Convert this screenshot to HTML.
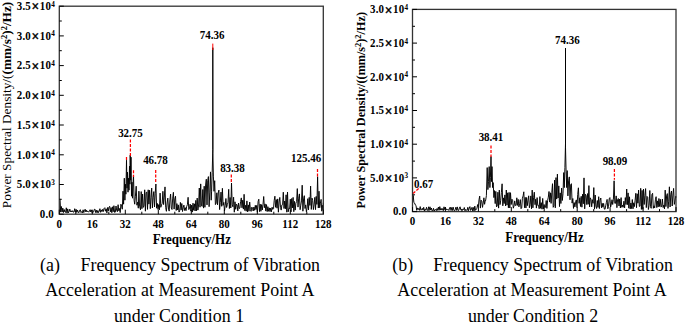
<!DOCTYPE html>
<html><head><meta charset="utf-8"><title>Frequency Spectrum</title>
<style>html,body{margin:0;padding:0;background:#fff}body{width:685px;height:322px;position:relative;overflow:hidden;font-family:"Liberation Serif",serif}</style></head>
<body>
<svg width="685" height="322" viewBox="0 0 685 322" style="position:absolute;left:0;top:0">
<style>text{font-family:"Liberation Serif",serif;fill:#000} .tk{font-size:10.9px;font-weight:bold;letter-spacing:0.12px} .xl{font-size:11px;font-weight:bold} .pk{font-size:11px;font-weight:bold} .ax{font-size:13px;font-weight:bold} .cap{font-size:17.9px}</style>
<polyline points="59.3,199.2 60.0,198.8 60.7,212.1 61.4,206.5 62.1,212.1 62.8,208.1 63.5,212.5 64.2,209.5 64.9,212.0 65.6,212.4 66.3,207.8 67.0,213.2 67.7,208.9 68.4,212.8 69.1,211.6 69.8,209.1 70.5,211.8 71.2,210.8 71.9,212.0 72.6,210.7 73.3,212.2 74.0,212.0 74.7,208.7 75.4,212.2 76.1,209.3 76.8,212.4 77.5,210.0 78.2,212.3 78.9,212.7 79.6,210.3 80.3,209.7 81.0,212.5 81.7,211.6 82.4,212.9 83.1,209.8 83.8,212.6 84.5,210.1 85.2,209.2 85.9,212.0 86.6,210.2 87.3,212.0 88.0,211.3 88.7,212.2 89.4,211.2 90.1,209.7 90.8,212.0 91.5,209.9 92.2,213.1 92.9,212.3 93.6,211.9 94.3,209.4 95.0,209.2 95.7,212.6 96.4,210.2 97.1,212.8 97.8,210.5 98.5,212.6 99.2,211.1 99.9,208.7 100.6,212.3 101.3,209.9 102.0,211.6 102.7,209.3 103.4,211.5 104.1,208.4 104.8,207.7 105.5,211.2 106.2,208.8 106.9,212.9 107.6,207.5 108.3,211.0 109.0,207.0 109.7,206.3 110.4,211.8 111.1,207.6 111.8,212.7 112.5,206.8 113.2,211.7 113.9,205.7 114.6,212.4 115.3,212.1 116.0,206.0 116.7,210.4 117.4,211.7 118.1,204.7 118.8,210.8 119.5,208.5 120.2,212.6 120.9,204.2 121.6,206.2 122.3,209.2 123.0,191.2 123.6,204.2 124.3,178.2 124.9,200.2 125.4,184.2 125.9,194.2 126.5,160.2 127.0,188.2 127.5,172.2 128.0,192.2 128.5,178.2 129.0,190.2 129.5,166.2 129.9,184.2 130.2,155.2 130.7,180.2 131.0,157.2 131.5,196.2 132.0,182.2 132.5,198.2 133.0,184.2 133.5,175.2 134.1,200.2 134.7,204.2 135.4,196.2 136.2,186.2 136.9,205.2 137.6,202.2 138.3,208.2 138.9,191.2 139.6,206.2 140.5,209.8 141.2,191.6 141.9,208.7 142.6,194.0 143.3,207.4 144.0,205.9 144.7,189.8 145.4,211.2 146.1,192.8 146.8,191.9 147.5,209.4 148.2,189.8 148.9,204.1 149.6,190.2 150.3,208.7 151.0,197.7 151.7,188.1 152.4,207.9 153.1,197.3 153.8,191.6 154.5,207.0 155.2,193.3 155.9,184.0 156.6,208.2 157.3,203.4 158.0,209.4 158.7,204.6 159.4,209.8 160.1,193.1 160.8,207.3 161.5,204.9 162.2,203.4 162.9,191.3 163.6,204.6 164.3,197.1 165.0,186.9 165.7,207.6 166.4,211.3 167.1,203.0 167.8,198.1 168.5,209.1 169.2,211.1 169.9,199.9 170.6,194.1 171.3,208.1 172.0,209.5 172.7,198.1 173.4,192.3 174.1,209.1 174.8,198.9 175.5,196.2 176.2,210.5 176.9,203.6 177.6,210.0 178.3,204.9 179.0,212.1 179.7,210.9 180.4,202.4 181.1,209.9 181.8,203.5 182.5,211.5 183.2,207.8 183.9,205.1 184.6,210.5 185.3,207.7 186.0,210.7 186.7,206.3 187.4,204.7 188.1,197.3 188.8,209.6 189.5,208.0 190.2,204.1 190.9,211.1 191.6,205.1 192.3,212.1 193.0,203.2 193.7,210.3 194.4,203.8 195.1,211.0 195.8,200.4 196.5,210.8 197.2,198.1 197.9,210.1 198.6,205.0 199.3,188.0 200.0,207.2 200.7,183.9 201.4,205.0 202.1,206.4 202.8,189.5 203.5,208.1 204.2,186.2 204.9,207.3 205.6,185.0 206.3,179.2 207.0,204.9 207.7,180.8 208.4,176.6 209.1,206.7 209.8,192.1 210.5,171.9 211.2,200.2 211.6,191.3 212.2,172.3 212.8,149.4 212.8,47.7 212.9,153.2 213.4,176.1 214.0,191.3 214.7,180.7 215.4,204.6 216.1,203.3 216.8,192.8 217.5,204.8 218.2,193.0 218.9,190.1 219.6,209.6 220.3,202.3 221.0,192.1 221.7,206.3 222.4,188.3 223.1,205.3 223.8,202.4 224.5,210.9 225.2,205.7 225.9,198.5 226.6,207.5 227.3,204.7 228.0,202.3 228.7,189.3 229.4,208.5 230.1,197.5 230.8,208.0 231.5,183.0 232.2,204.3 232.9,206.8 233.6,197.2 234.3,212.2 235.0,201.8 235.7,209.3 236.4,204.1 237.1,205.0 237.8,210.9 238.5,203.0 239.2,208.7 239.9,208.0 240.6,201.5 241.3,197.9 242.0,207.8 242.7,200.2 243.4,209.1 244.1,194.3 244.8,210.5 245.5,205.3 246.2,211.2 246.9,200.9 247.6,211.9 248.3,204.9 249.0,211.2 249.7,202.1 250.4,209.6 251.1,211.4 251.8,207.1 252.5,208.1 253.2,211.0 253.9,207.0 254.6,210.3 255.3,205.3 256.0,209.6 256.7,205.4 257.4,212.1 258.1,201.5 258.8,199.2 259.5,211.6 260.2,204.1 260.9,211.3 261.6,204.6 262.3,210.0 263.0,204.5 263.7,196.5 264.4,207.7 265.1,203.9 265.8,211.1 266.5,204.6 267.2,211.6 267.9,206.7 268.6,211.3 269.3,207.9 270.0,211.6 270.7,208.1 271.4,211.8 272.1,207.2 272.8,209.4 273.5,208.7 274.2,200.4 274.9,196.2 275.6,207.3 276.3,199.6 277.0,208.2 277.7,198.9 278.4,212.2 279.1,202.0 279.8,197.4 280.5,207.4 281.2,210.1 281.9,204.9 282.6,204.6 283.3,192.2 284.0,208.5 284.7,201.0 285.4,208.8 286.1,194.8 286.8,212.2 287.5,192.0 288.2,211.8 288.9,208.3 289.6,208.8 290.3,199.2 291.0,211.9 291.7,198.5 292.4,207.9 293.1,197.4 293.8,211.7 294.5,201.4 295.2,210.1 295.9,203.1 296.6,201.6 297.3,188.6 298.0,207.1 298.7,198.2 299.4,193.9 300.1,209.7 300.8,205.2 301.5,200.9 302.2,185.2 302.9,211.2 303.6,198.9 304.3,195.7 305.0,208.5 305.7,204.9 306.4,211.8 307.1,208.2 307.8,198.7 308.5,209.9 309.2,197.4 309.9,205.4 310.6,186.1 311.3,209.4 312.0,198.1 312.7,200.5 313.4,209.6 314.1,204.7 314.8,197.4 315.5,209.6 316.2,196.4 316.9,204.4 317.6,176.7 318.3,208.0 319.0,191.2 319.7,207.8 320.4,203.2 321.1,199.4 321.8,211.2 322.5,205.3 323.2,209.9 323.3,202.7" fill="none" stroke="#000" stroke-width="0.95" stroke-linejoin="miter" stroke-miterlimit="3"/>
<rect x="59.3" y="6.2" width="264.0" height="208.0" fill="none" stroke="#333" stroke-width="1.3"/>
<line x1="59.3" y1="214.2" x2="63.8" y2="214.2" stroke="#000" stroke-width="1"/>
<line x1="59.3" y1="199.3" x2="61.8" y2="199.3" stroke="#000" stroke-width="1"/>
<text transform="translate(53.8,218.0) scale(1,1.06)" text-anchor="end" class="tk">0.0</text>
<line x1="59.3" y1="184.5" x2="63.8" y2="184.5" stroke="#000" stroke-width="1"/>
<line x1="59.3" y1="169.6" x2="61.8" y2="169.6" stroke="#000" stroke-width="1"/>
<text transform="translate(55.0,188.3) scale(1,1.06)" text-anchor="end" class="tk">5.0<tspan dx="0.6" dy="1.4" font-size="13.5" stroke="#000" stroke-width="0.35">×</tspan><tspan dx="0.6" dy="-1.4">10</tspan><tspan dy="-3.1" dx="0.3" font-size="7.2">3</tspan></text>
<line x1="59.3" y1="154.8" x2="63.8" y2="154.8" stroke="#000" stroke-width="1"/>
<line x1="59.3" y1="139.9" x2="61.8" y2="139.9" stroke="#000" stroke-width="1"/>
<text transform="translate(55.0,158.6) scale(1,1.06)" text-anchor="end" class="tk">1.0<tspan dx="0.6" dy="1.4" font-size="13.5" stroke="#000" stroke-width="0.35">×</tspan><tspan dx="0.6" dy="-1.4">10</tspan><tspan dy="-3.1" dx="0.3" font-size="7.2">4</tspan></text>
<line x1="59.3" y1="125.0" x2="63.8" y2="125.0" stroke="#000" stroke-width="1"/>
<line x1="59.3" y1="110.2" x2="61.8" y2="110.2" stroke="#000" stroke-width="1"/>
<text transform="translate(55.0,128.8) scale(1,1.06)" text-anchor="end" class="tk">1.5<tspan dx="0.6" dy="1.4" font-size="13.5" stroke="#000" stroke-width="0.35">×</tspan><tspan dx="0.6" dy="-1.4">10</tspan><tspan dy="-3.1" dx="0.3" font-size="7.2">4</tspan></text>
<line x1="59.3" y1="95.3" x2="63.8" y2="95.3" stroke="#000" stroke-width="1"/>
<line x1="59.3" y1="80.5" x2="61.8" y2="80.5" stroke="#000" stroke-width="1"/>
<text transform="translate(55.0,99.1) scale(1,1.06)" text-anchor="end" class="tk">2.0<tspan dx="0.6" dy="1.4" font-size="13.5" stroke="#000" stroke-width="0.35">×</tspan><tspan dx="0.6" dy="-1.4">10</tspan><tspan dy="-3.1" dx="0.3" font-size="7.2">4</tspan></text>
<line x1="59.3" y1="65.6" x2="63.8" y2="65.6" stroke="#000" stroke-width="1"/>
<line x1="59.3" y1="50.7" x2="61.8" y2="50.7" stroke="#000" stroke-width="1"/>
<text transform="translate(55.0,69.4) scale(1,1.06)" text-anchor="end" class="tk">2.5<tspan dx="0.6" dy="1.4" font-size="13.5" stroke="#000" stroke-width="0.35">×</tspan><tspan dx="0.6" dy="-1.4">10</tspan><tspan dy="-3.1" dx="0.3" font-size="7.2">4</tspan></text>
<line x1="59.3" y1="35.9" x2="63.8" y2="35.9" stroke="#000" stroke-width="1"/>
<line x1="59.3" y1="21.0" x2="61.8" y2="21.0" stroke="#000" stroke-width="1"/>
<text transform="translate(55.0,39.7) scale(1,1.06)" text-anchor="end" class="tk">3.0<tspan dx="0.6" dy="1.4" font-size="13.5" stroke="#000" stroke-width="0.35">×</tspan><tspan dx="0.6" dy="-1.4">10</tspan><tspan dy="-3.1" dx="0.3" font-size="7.2">4</tspan></text>
<line x1="59.3" y1="6.2" x2="63.8" y2="6.2" stroke="#000" stroke-width="1"/>
<text transform="translate(55.0,10.0) scale(1,1.06)" text-anchor="end" class="tk">3.5<tspan dx="0.6" dy="1.4" font-size="13.5" stroke="#000" stroke-width="0.35">×</tspan><tspan dx="0.6" dy="-1.4">10</tspan><tspan dy="-3.1" dx="0.3" font-size="7.2">4</tspan></text>
<line x1="59.3" y1="214.2" x2="59.3" y2="209.7" stroke="#000" stroke-width="1"/>
<line x1="75.8" y1="214.2" x2="75.8" y2="211.7" stroke="#000" stroke-width="1"/>
<text transform="translate(59.3,228.0) scale(1,1.06)" text-anchor="middle" class="xl">0</text>
<line x1="92.3" y1="214.2" x2="92.3" y2="209.7" stroke="#000" stroke-width="1"/>
<line x1="108.8" y1="214.2" x2="108.8" y2="211.7" stroke="#000" stroke-width="1"/>
<text transform="translate(92.3,228.0) scale(1,1.06)" text-anchor="middle" class="xl">16</text>
<line x1="125.3" y1="214.2" x2="125.3" y2="209.7" stroke="#000" stroke-width="1"/>
<line x1="141.8" y1="214.2" x2="141.8" y2="211.7" stroke="#000" stroke-width="1"/>
<text transform="translate(125.3,228.0) scale(1,1.06)" text-anchor="middle" class="xl">32</text>
<line x1="158.3" y1="214.2" x2="158.3" y2="209.7" stroke="#000" stroke-width="1"/>
<line x1="174.8" y1="214.2" x2="174.8" y2="211.7" stroke="#000" stroke-width="1"/>
<text transform="translate(158.3,228.0) scale(1,1.06)" text-anchor="middle" class="xl">48</text>
<line x1="191.3" y1="214.2" x2="191.3" y2="209.7" stroke="#000" stroke-width="1"/>
<line x1="207.8" y1="214.2" x2="207.8" y2="211.7" stroke="#000" stroke-width="1"/>
<text transform="translate(191.3,228.0) scale(1,1.06)" text-anchor="middle" class="xl">64</text>
<line x1="224.3" y1="214.2" x2="224.3" y2="209.7" stroke="#000" stroke-width="1"/>
<line x1="240.8" y1="214.2" x2="240.8" y2="211.7" stroke="#000" stroke-width="1"/>
<text transform="translate(224.3,228.0) scale(1,1.06)" text-anchor="middle" class="xl">80</text>
<line x1="257.3" y1="214.2" x2="257.3" y2="209.7" stroke="#000" stroke-width="1"/>
<line x1="273.8" y1="214.2" x2="273.8" y2="211.7" stroke="#000" stroke-width="1"/>
<text transform="translate(257.3,228.0) scale(1,1.06)" text-anchor="middle" class="xl">96</text>
<line x1="290.3" y1="214.2" x2="290.3" y2="209.7" stroke="#000" stroke-width="1"/>
<line x1="306.8" y1="214.2" x2="306.8" y2="211.7" stroke="#000" stroke-width="1"/>
<text transform="translate(290.3,228.0) scale(1,1.06)" text-anchor="middle" class="xl">112</text>
<line x1="323.3" y1="214.2" x2="323.3" y2="209.7" stroke="#000" stroke-width="1"/>
<text transform="translate(323.3,228.0) scale(1,1.06)" text-anchor="middle" class="xl">128</text>
<text transform="translate(191.8,244.2) scale(1,1.06)" text-anchor="middle" class="ax">Frequency/Hz</text>
<polyline points="412.5,201.6 413.2,195.4 413.9,202.6 414.6,203.1 415.3,204.9 416.0,205.4 416.7,210.3 417.4,207.9 418.1,209.6 418.8,208.4 419.5,210.3 420.2,206.6 420.9,210.2 421.6,209.7 422.3,208.3 423.0,210.1 423.7,207.3 424.4,211.0 425.1,209.2 425.8,210.3 426.5,207.3 427.2,210.0 427.9,210.6 428.6,206.8 429.3,209.6 430.0,206.8 430.7,210.1 431.4,208.0 432.1,210.9 432.8,210.9 433.5,208.3 434.2,211.0 434.9,209.7 435.6,209.5 436.3,210.7 437.0,208.5 437.7,210.4 438.4,207.1 439.1,210.3 439.8,206.6 440.5,210.1 441.2,208.4 441.9,210.1 442.6,208.6 443.3,210.7 444.0,206.8 444.7,209.6 445.4,207.4 446.1,210.1 446.8,209.2 447.5,209.6 448.2,209.4 448.9,210.5 449.6,207.8 450.3,207.1 451.0,210.5 451.7,207.5 452.4,210.5 453.1,207.1 453.8,209.9 454.5,211.1 455.2,209.7 455.9,207.2 456.6,210.4 457.3,206.9 458.0,210.5 458.7,210.4 459.4,208.0 460.1,206.8 460.8,209.9 461.5,209.4 462.2,210.3 462.9,209.1 463.6,209.6 464.3,207.5 465.0,210.9 465.7,209.4 466.4,210.2 467.1,210.5 467.8,207.3 468.5,210.8 469.2,208.1 469.9,206.6 470.6,210.4 471.3,209.6 472.0,207.3 472.7,210.9 473.4,207.5 474.1,210.9 474.8,206.1 475.5,210.3 476.2,209.2 476.9,208.6 477.6,204.6 478.3,207.2 479.0,199.7 479.7,196.1 480.4,208.1 481.1,200.2 481.8,201.1 482.5,207.4 483.2,203.0 483.9,197.8 484.6,204.3 485.3,200.1 485.6,200.6 486.4,195.6 487.2,167.6 487.9,189.6 488.5,181.6 489.2,166.6 489.9,187.6 490.4,177.6 491.0,156.6 491.5,181.6 492.0,166.6 492.6,187.6 493.2,182.6 493.9,197.6 494.5,190.6 495.2,203.6 495.8,191.4 496.5,206.9 497.2,206.0 497.9,192.2 498.6,208.1 499.3,190.1 500.0,204.6 500.7,200.7 501.4,192.4 502.1,183.8 502.8,205.8 503.5,197.9 504.2,203.5 504.9,194.9 505.6,206.0 506.3,190.0 507.0,205.1 507.7,192.8 508.4,207.8 509.1,192.4 509.8,208.0 510.5,192.7 511.2,204.5 511.9,199.2 512.6,200.2 513.3,208.2 514.0,206.0 514.7,200.9 515.4,205.5 516.1,205.4 516.8,197.8 517.5,205.4 518.2,199.4 518.9,206.9 519.6,203.7 520.3,199.6 521.0,208.7 521.7,208.0 522.4,198.2 523.1,195.9 523.8,191.8 524.5,207.7 525.2,197.3 525.9,208.0 526.6,197.5 527.3,205.7 528.0,200.3 528.7,195.8 529.4,207.8 530.1,204.7 530.8,195.9 531.5,208.8 532.2,190.1 532.9,207.8 533.6,197.3 534.3,192.2 535.0,204.7 535.7,199.2 536.4,208.1 537.1,197.6 537.8,205.5 538.5,205.4 539.2,208.7 539.9,196.6 540.6,208.3 541.3,202.7 542.0,209.2 542.7,198.4 543.4,208.9 544.1,204.5 544.8,207.6 545.5,207.3 546.2,200.5 546.9,208.4 547.6,200.6 548.3,197.2 549.0,191.5 549.7,202.1 550.4,192.8 551.1,203.4 551.8,192.4 552.5,183.7 553.2,207.3 553.9,205.8 554.6,180.1 555.3,207.8 556.0,177.6 556.7,199.1 557.4,174.1 558.1,198.0 558.8,185.9 559.5,206.6 560.2,192.9 560.9,203.5 561.6,188.1 562.3,200.5 563.0,193.6 563.7,172.6 564.3,187.6 564.9,167.6 565.5,143.6 565.5,48.1 565.5,147.6 566.1,171.6 566.7,187.6 567.2,170.6 567.9,195.9 568.6,180.9 569.3,176.9 570.0,199.8 570.7,184.8 571.4,183.7 572.1,203.1 572.8,198.5 573.5,208.4 574.2,202.6 574.9,206.9 575.6,202.1 576.3,199.9 577.0,207.6 577.7,194.5 578.4,187.8 579.1,203.3 579.8,197.8 580.5,206.5 581.2,196.3 581.9,207.2 582.6,194.2 583.3,203.8 584.0,177.9 584.7,208.8 585.4,194.2 586.1,195.6 586.8,204.6 587.5,193.6 588.2,204.3 588.9,185.6 589.6,207.0 590.3,197.8 591.0,199.6 591.7,206.8 592.4,199.7 593.1,203.3 593.8,187.6 594.5,209.1 595.2,195.0 595.9,206.2 596.6,208.5 597.3,200.5 598.0,207.4 598.7,196.7 599.4,208.6 600.1,200.1 600.8,198.0 601.5,207.8 602.2,203.3 602.9,207.2 603.6,203.4 604.3,209.0 605.0,209.3 605.7,205.9 606.4,202.4 607.1,199.4 607.8,208.8 608.5,206.4 609.2,198.8 609.9,197.6 610.6,207.1 611.3,204.0 612.0,199.7 612.7,204.5 613.4,199.3 614.1,180.8 614.8,203.3 615.5,203.3 616.2,195.9 616.9,207.7 617.6,199.6 618.3,198.5 619.0,206.0 619.7,199.0 620.4,208.0 621.1,197.6 621.8,207.3 622.5,205.0 623.2,207.3 623.9,201.2 624.6,207.9 625.3,197.6 626.0,204.5 626.7,189.0 627.4,204.7 628.1,192.9 628.8,208.2 629.5,196.8 630.2,208.9 630.9,203.0 631.6,208.6 632.3,199.5 633.0,208.8 633.7,202.8 634.4,206.6 635.1,200.3 635.8,193.3 636.5,207.7 637.2,193.8 637.9,203.2 638.6,190.1 639.3,206.4 640.0,206.2 640.7,188.3 641.4,209.4 642.1,190.4 642.8,209.3 643.5,189.0 644.2,204.5 644.9,195.6 645.6,188.6 646.3,207.6 647.0,196.4 647.7,197.2 648.4,209.5 649.1,205.5 649.8,190.5 650.5,206.6 651.2,208.3 651.9,194.5 652.6,193.3 653.3,208.3 654.0,205.8 654.7,207.9 655.4,199.8 656.1,196.7 656.8,207.6 657.5,200.9 658.2,206.9 658.9,198.5 659.6,206.5 660.3,199.3 661.0,207.1 661.7,206.3 662.4,199.0 663.1,207.5 663.8,205.1 664.5,208.9 665.2,190.1 665.9,206.6 666.6,196.0 667.3,193.6 668.0,208.4 668.7,201.2 669.4,186.8 670.1,207.0 670.8,194.2 671.5,191.0 672.2,206.0 672.9,195.1 673.6,188.4 674.3,204.4 675.0,201.0 675.7,196.2 676.0,197.6" fill="none" stroke="#000" stroke-width="0.95" stroke-linejoin="miter" stroke-miterlimit="3"/>
<rect x="412.5" y="9.4" width="263.5" height="202.2" fill="none" stroke="#333" stroke-width="1.3"/>
<line x1="412.5" y1="211.6" x2="417.0" y2="211.6" stroke="#000" stroke-width="1"/>
<line x1="412.5" y1="194.8" x2="415.0" y2="194.8" stroke="#000" stroke-width="1"/>
<text transform="translate(407.0,215.4) scale(1,1.06)" text-anchor="end" class="tk">0.0</text>
<line x1="412.5" y1="177.9" x2="417.0" y2="177.9" stroke="#000" stroke-width="1"/>
<line x1="412.5" y1="161.1" x2="415.0" y2="161.1" stroke="#000" stroke-width="1"/>
<text transform="translate(408.2,181.7) scale(1,1.06)" text-anchor="end" class="tk">5.0<tspan dx="0.6" dy="1.4" font-size="13.5" stroke="#000" stroke-width="0.35">×</tspan><tspan dx="0.6" dy="-1.4">10</tspan><tspan dy="-3.1" dx="0.3" font-size="7.2">3</tspan></text>
<line x1="412.5" y1="144.2" x2="417.0" y2="144.2" stroke="#000" stroke-width="1"/>
<line x1="412.5" y1="127.3" x2="415.0" y2="127.3" stroke="#000" stroke-width="1"/>
<text transform="translate(408.2,148.0) scale(1,1.06)" text-anchor="end" class="tk">1.0<tspan dx="0.6" dy="1.4" font-size="13.5" stroke="#000" stroke-width="0.35">×</tspan><tspan dx="0.6" dy="-1.4">10</tspan><tspan dy="-3.1" dx="0.3" font-size="7.2">4</tspan></text>
<line x1="412.5" y1="110.5" x2="417.0" y2="110.5" stroke="#000" stroke-width="1"/>
<line x1="412.5" y1="93.7" x2="415.0" y2="93.7" stroke="#000" stroke-width="1"/>
<text transform="translate(408.2,114.3) scale(1,1.06)" text-anchor="end" class="tk">1.5<tspan dx="0.6" dy="1.4" font-size="13.5" stroke="#000" stroke-width="0.35">×</tspan><tspan dx="0.6" dy="-1.4">10</tspan><tspan dy="-3.1" dx="0.3" font-size="7.2">4</tspan></text>
<line x1="412.5" y1="76.8" x2="417.0" y2="76.8" stroke="#000" stroke-width="1"/>
<line x1="412.5" y1="60.0" x2="415.0" y2="60.0" stroke="#000" stroke-width="1"/>
<text transform="translate(408.2,80.6) scale(1,1.06)" text-anchor="end" class="tk">2.0<tspan dx="0.6" dy="1.4" font-size="13.5" stroke="#000" stroke-width="0.35">×</tspan><tspan dx="0.6" dy="-1.4">10</tspan><tspan dy="-3.1" dx="0.3" font-size="7.2">4</tspan></text>
<line x1="412.5" y1="43.1" x2="417.0" y2="43.1" stroke="#000" stroke-width="1"/>
<line x1="412.5" y1="26.3" x2="415.0" y2="26.3" stroke="#000" stroke-width="1"/>
<text transform="translate(408.2,46.9) scale(1,1.06)" text-anchor="end" class="tk">2.5<tspan dx="0.6" dy="1.4" font-size="13.5" stroke="#000" stroke-width="0.35">×</tspan><tspan dx="0.6" dy="-1.4">10</tspan><tspan dy="-3.1" dx="0.3" font-size="7.2">4</tspan></text>
<line x1="412.5" y1="9.4" x2="417.0" y2="9.4" stroke="#000" stroke-width="1"/>
<text transform="translate(408.2,13.2) scale(1,1.06)" text-anchor="end" class="tk">3.0<tspan dx="0.6" dy="1.4" font-size="13.5" stroke="#000" stroke-width="0.35">×</tspan><tspan dx="0.6" dy="-1.4">10</tspan><tspan dy="-3.1" dx="0.3" font-size="7.2">4</tspan></text>
<line x1="412.5" y1="211.6" x2="412.5" y2="207.1" stroke="#000" stroke-width="1"/>
<line x1="429.0" y1="211.6" x2="429.0" y2="209.1" stroke="#000" stroke-width="1"/>
<text transform="translate(412.5,225.4) scale(1,1.06)" text-anchor="middle" class="xl">0</text>
<line x1="445.4" y1="211.6" x2="445.4" y2="207.1" stroke="#000" stroke-width="1"/>
<line x1="461.9" y1="211.6" x2="461.9" y2="209.1" stroke="#000" stroke-width="1"/>
<text transform="translate(445.4,225.4) scale(1,1.06)" text-anchor="middle" class="xl">16</text>
<line x1="478.4" y1="211.6" x2="478.4" y2="207.1" stroke="#000" stroke-width="1"/>
<line x1="494.8" y1="211.6" x2="494.8" y2="209.1" stroke="#000" stroke-width="1"/>
<text transform="translate(478.4,225.4) scale(1,1.06)" text-anchor="middle" class="xl">32</text>
<line x1="511.3" y1="211.6" x2="511.3" y2="207.1" stroke="#000" stroke-width="1"/>
<line x1="527.8" y1="211.6" x2="527.8" y2="209.1" stroke="#000" stroke-width="1"/>
<text transform="translate(511.3,225.4) scale(1,1.06)" text-anchor="middle" class="xl">48</text>
<line x1="544.2" y1="211.6" x2="544.2" y2="207.1" stroke="#000" stroke-width="1"/>
<line x1="560.7" y1="211.6" x2="560.7" y2="209.1" stroke="#000" stroke-width="1"/>
<text transform="translate(544.2,225.4) scale(1,1.06)" text-anchor="middle" class="xl">64</text>
<line x1="577.2" y1="211.6" x2="577.2" y2="207.1" stroke="#000" stroke-width="1"/>
<line x1="593.7" y1="211.6" x2="593.7" y2="209.1" stroke="#000" stroke-width="1"/>
<text transform="translate(577.2,225.4) scale(1,1.06)" text-anchor="middle" class="xl">80</text>
<line x1="610.1" y1="211.6" x2="610.1" y2="207.1" stroke="#000" stroke-width="1"/>
<line x1="626.6" y1="211.6" x2="626.6" y2="209.1" stroke="#000" stroke-width="1"/>
<text transform="translate(610.1,225.4) scale(1,1.06)" text-anchor="middle" class="xl">96</text>
<line x1="643.1" y1="211.6" x2="643.1" y2="207.1" stroke="#000" stroke-width="1"/>
<line x1="659.5" y1="211.6" x2="659.5" y2="209.1" stroke="#000" stroke-width="1"/>
<text transform="translate(643.1,225.4) scale(1,1.06)" text-anchor="middle" class="xl">112</text>
<line x1="676.0" y1="211.6" x2="676.0" y2="207.1" stroke="#000" stroke-width="1"/>
<text transform="translate(676.0,225.4) scale(1,1.06)" text-anchor="middle" class="xl">128</text>
<text transform="translate(544.5,241.6) scale(1,1.06)" text-anchor="middle" class="ax">Frequency/Hz</text>
<text transform="translate(11.3,208.2) rotate(-90)" style="font-size:13.3px"><tspan>Power Spectral Density/(</tspan><tspan font-weight="bold">(mm/s<tspan dy="-4.5" font-size="8.5">2</tspan><tspan dy="4.5">)</tspan><tspan dy="-4.5" font-size="8.5">2</tspan><tspan dy="4.5">/Hz)</tspan></tspan></text>
<text transform="translate(365.2,208.5) rotate(-90)" style="font-size:12.2px;font-weight:bold">Power Spectral Density/((mm/s<tspan dy="-4.5" font-size="8.5">2</tspan><tspan dy="4.5">)</tspan><tspan dy="-4.5" font-size="8.5">2</tspan><tspan dy="4.5">/Hz)</tspan></text>
<text transform="translate(212.2,39.4) scale(1,1.06)" text-anchor="middle" class="pk">74.36</text>
<text transform="translate(130.5,136.5) scale(1,1.06)" text-anchor="middle" class="pk">32.75</text>
<text transform="translate(155.5,164.0) scale(1,1.06)" text-anchor="middle" class="pk">46.78</text>
<text transform="translate(232.5,172.0) scale(1,1.06)" text-anchor="middle" class="pk">83.38</text>
<text transform="translate(321.3,161.9) scale(1,1.06)" text-anchor="end" class="pk">125.46</text>
<line x1="130.4" y1="139.5" x2="130.4" y2="156.0" stroke="#f00" stroke-width="1.25" stroke-dasharray="3,1.5"/>
<line x1="212.8" y1="43.6" x2="212.8" y2="50" stroke="#f00" stroke-width="1"/>
<line x1="155.7" y1="170.0" x2="155.7" y2="182.0" stroke="#f00" stroke-width="1.25" stroke-dasharray="3,1.5"/>
<line x1="231.3" y1="174.6" x2="231.3" y2="183.0" stroke="#f00" stroke-width="1.25" stroke-dasharray="3,1.5"/>
<line x1="317.5" y1="169.0" x2="317.5" y2="177.0" stroke="#f00" stroke-width="1.25" stroke-dasharray="3,1.5"/>
<line x1="126.5" y1="157.0" x2="126.5" y2="161.5" stroke="#f00" stroke-width="1.25" stroke-dasharray="3,1.5"/>
<line x1="133.5" y1="170.2" x2="133.5" y2="177.0" stroke="#f00" stroke-width="1.25" stroke-dasharray="3,1.5"/>
<text transform="translate(567.3,44.0) scale(1,1.06)" text-anchor="middle" class="pk">74.36</text>
<text transform="translate(491.0,141.0) scale(1,1.06)" text-anchor="middle" class="pk">38.41</text>
<text transform="translate(615.0,164.5) scale(1,1.06)" text-anchor="middle" class="pk">98.09</text>
<text transform="translate(414.0,187.6) scale(1,1.06)" text-anchor="start" class="pk">0.67</text>
<line x1="491.0" y1="145.5" x2="491.0" y2="157.0" stroke="#f00" stroke-width="1.25" stroke-dasharray="3,1.5"/>
<line x1="614.4" y1="169.0" x2="614.4" y2="179.7" stroke="#f00" stroke-width="1.25" stroke-dasharray="3,1.5"/>
<line x1="413.1" y1="193.5" x2="420.3" y2="186.9" stroke="#f00" stroke-width="1.25" stroke-dasharray="3,1.5"/>
<text x="40.0" y="270.6" text-anchor="start" class="cap" >(a)<tspan x="80.5">Frequency Spectrum of Vibration</tspan></text>
<text x="179.8" y="296.3" text-anchor="middle" class="cap" >Acceleration at Measurement Point A</text>
<text x="179.0" y="321.5" text-anchor="middle" class="cap" >under Condition 1</text>
<text x="392.3" y="270.6" text-anchor="start" class="cap" >(b)<tspan x="433.3">Frequency Spectrum of Vibration</tspan></text>
<text x="532.0" y="296.3" text-anchor="middle" class="cap" >Acceleration at Measurement Point A</text>
<text x="533.0" y="321.5" text-anchor="middle" class="cap" >under Condition 2</text>
</svg>
</body></html>
